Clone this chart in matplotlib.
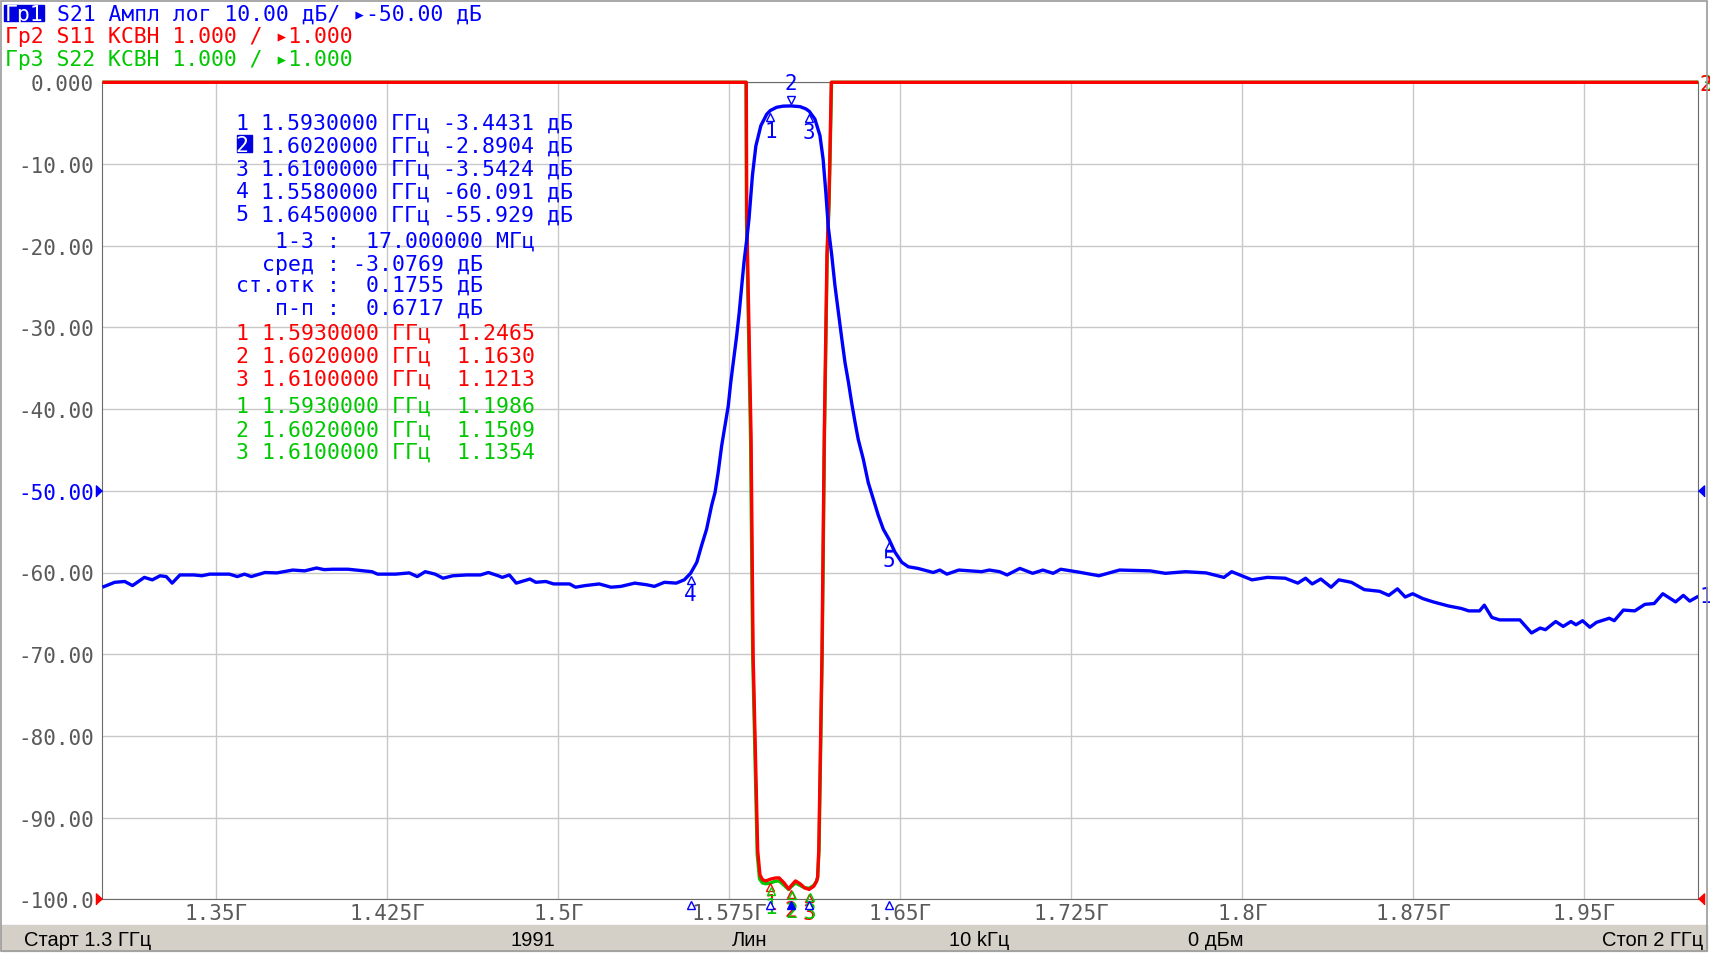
import numpy as np
import matplotlib
matplotlib.use("Agg")
import matplotlib.pyplot as plt
from matplotlib.patches import Rectangle
from matplotlib.transforms import offset_copy, blended_transform_factory

plt.rcParams['font.family'] = ['DejaVu Sans Mono', 'DejaVu Sans']

BLUE = '#0000ff'
RED = '#ff0000'
GREEN = '#00c800'
GRAY = '#5a5a5a'

# ---------------- sweep / scale settings ----------------
START_GHZ = 1.3
STOP_GHZ = 2.0
N_POINTS = 1991
SWEEP_TYPE = 'Лин'
IF_BW = '10 kГц'
POWER = '0 дБм'

S21_DB_PER_DIV = 10.0
S21_REF_DB = -50.0
VSWR_PER_DIV = 1.0
VSWR_REF = 1.0

X_TICKS = [1.35, 1.425, 1.5, 1.575, 1.65, 1.725, 1.8, 1.875, 1.95]
X_TICK_LABELS = ['1.35Г', '1.425Г', '1.5Г', '1.575Г', '1.65Г', '1.725Г',
                 '1.8Г', '1.875Г', '1.95Г']
Y_TICKS = [0, -10, -20, -30, -40, -50, -60, -70, -80, -90, -100]
Y_TICK_LABELS = ['0.000', '-10.00', '-20.00', '-30.00', '-40.00', '-50.00',
                 '-60.00', '-70.00', '-80.00', '-90.00', '-100.0']

# ---------------- S21 trace (GHz, dB) ----------------
S21_FREQ_GHZ = [
    1.3000, 1.3054, 1.3098, 1.3132, 1.3184, 1.3219, 1.3253, 1.3280, 1.3306, 1.3340,
    1.3401, 1.3436, 1.3471, 1.3557, 1.3592, 1.3623, 1.3653, 1.3713, 1.3765, 1.3835,
    1.3887, 1.3939, 1.3973, 1.4008, 1.4077, 1.4147, 1.4182, 1.4207, 1.4286, 1.4346,
    1.4381, 1.4416, 1.4459, 1.4494, 1.4537, 1.4598, 1.4658, 1.4693, 1.4736, 1.4754,
    1.4785, 1.4815, 1.4875, 1.4901, 1.4945, 1.4979, 1.5049, 1.5075, 1.5118, 1.5179,
    1.5231, 1.5274, 1.5335, 1.5387, 1.5421, 1.5465, 1.5517, 1.5552, 1.5580, 1.5607,
    1.5628, 1.5650, 1.5672, 1.5687, 1.5701, 1.5716, 1.5731, 1.5745, 1.5756, 1.5767,
    1.5782, 1.5793, 1.5804, 1.5814, 1.5828, 1.5836, 1.5851, 1.5866, 1.5888, 1.5914,
    1.5930, 1.5957, 1.5985, 1.6020, 1.6060, 1.6085, 1.6100, 1.6125, 1.6147, 1.6161,
    1.6173, 1.6184, 1.6199, 1.6213, 1.6228, 1.6243, 1.6257, 1.6272, 1.6286, 1.6301,
    1.6315, 1.6337, 1.6359, 1.6381, 1.6403, 1.6425, 1.6450, 1.6476, 1.6506, 1.6535,
    1.6577, 1.6644, 1.6673, 1.6704, 1.6756, 1.6856, 1.6890, 1.6935, 1.6968, 1.7024,
    1.7080, 1.7125, 1.7170, 1.7203, 1.7282, 1.7371, 1.7461, 1.7595, 1.7662, 1.7751,
    1.7841, 1.7919, 1.7953, 1.8042, 1.8109, 1.8188, 1.8243, 1.8277, 1.8306, 1.8344,
    1.8389, 1.8423, 1.8478, 1.8535, 1.8602, 1.8642, 1.8680, 1.8714, 1.8747, 1.8792,
    1.8837, 1.8904, 1.8960, 1.8993, 1.9040, 1.9061, 1.9094, 1.9128, 1.9217, 1.9268,
    1.9306, 1.9329, 1.9374, 1.9407, 1.9441, 1.9463, 1.9492, 1.9524, 1.9553, 1.9609,
    1.9631, 1.9671, 1.9721, 1.9765, 1.9806, 1.9844, 1.9900, 1.9934, 1.9962, 2.0000]
S21_DB = [
    -61.8, -61.2, -61.1, -61.6, -60.6, -60.9, -60.4, -60.5, -61.3, -60.3,
    -60.3, -60.4, -60.2, -60.2, -60.5, -60.2, -60.5, -60.0, -60.05, -59.7,
    -59.8, -59.45, -59.65, -59.6, -59.6, -59.8, -59.9, -60.2, -60.2, -60.05,
    -60.5, -59.9, -60.2, -60.7, -60.4, -60.3, -60.3, -60.0, -60.4, -60.6,
    -60.3, -61.3, -60.8, -61.2, -61.1, -61.4, -61.4, -61.8, -61.6, -61.4,
    -61.8, -61.7, -61.3, -61.5, -61.7, -61.2, -61.3, -60.9, -60.091, -58.75,
    -56.7, -54.7, -51.8, -50.2, -47.7, -44.5, -42.0, -39.6, -36.7, -34.3,
    -31.0, -28.2, -24.9, -22.0, -18.8, -16.7, -11.4, -7.8, -5.3, -3.9,
    -3.4431, -3.06, -2.92, -2.8904, -2.98, -3.25, -3.5424, -4.5, -6.5, -9.4,
    -13.5, -17.8, -21.2, -24.9, -28.2, -31.4, -34.3, -36.7, -39.2, -41.6,
    -43.7, -46.1, -49.0, -51.0, -53.0, -54.7, -55.929, -57.5, -58.75, -59.3,
    -59.5, -60.0, -59.7, -60.2, -59.7, -59.9, -59.7, -59.9, -60.3, -59.5,
    -60.1, -59.7, -60.1, -59.6, -59.95, -60.4, -59.7, -59.8, -60.1, -59.9,
    -60.05, -60.6, -59.9, -60.9, -60.6, -60.7, -61.3, -60.7, -61.4, -60.8,
    -61.8, -60.9, -61.2, -62.1, -62.3, -62.8, -62.0, -63.0, -62.6, -63.2,
    -63.6, -64.1, -64.4, -64.7, -64.7, -64.0, -65.5, -65.8, -65.8, -67.4,
    -66.8, -67.0, -66.0, -66.6, -66.0, -66.4, -65.9, -66.7, -66.1, -65.6,
    -65.9, -64.6, -64.7, -63.9, -63.8, -62.6, -63.6, -62.8, -63.5, -62.9]

# ---------------- S11 VSWR trace (top of scale = off-scale) ----------------
S11_FREQ_GHZ = [1.3000, 1.5824, 1.5826, 1.5845, 1.5854, 1.5874, 1.5884, 1.5895,
                1.5910, 1.5930, 1.5950, 1.5968, 1.5990, 1.6010, 1.6020, 1.6040,
                1.6060, 1.6080, 1.6100, 1.6120, 1.6132, 1.6137, 1.6142, 1.6156,
                1.6166, 1.6178, 1.6186, 1.6190, 1.6197, 2.0000]
S11_VSWR = [11.0, 11.0, 9.4, 6.67, 4.0, 1.6, 1.30, 1.24,
            1.225, 1.2465, 1.26, 1.262, 1.20, 1.125, 1.163, 1.225,
            1.19, 1.14, 1.1213, 1.16, 1.22, 1.27, 1.6, 4.0,
            6.67, 8.9, 9.5, 10.0, 11.0, 11.0]

# ---------------- S22 VSWR trace ----------------
S22_FREQ_GHZ = [1.3000, 1.5823, 1.5825, 1.5843, 1.5852, 1.5872, 1.5882, 1.5895,
                1.5910, 1.5930, 1.5950, 1.5968, 1.5990, 1.6010, 1.6020, 1.6040,
                1.6060, 1.6080, 1.6100, 1.6120, 1.6132, 1.6137, 1.6143, 1.6157,
                1.6167, 1.6179, 1.6187, 1.6191, 1.6198, 2.0000]
S22_VSWR = [11.0, 11.0, 9.3, 6.6, 4.0, 1.55, 1.25, 1.2,
            1.19, 1.1986, 1.22, 1.225, 1.17, 1.12, 1.1509, 1.20,
            1.17, 1.14, 1.1354, 1.17, 1.22, 1.27, 1.6, 4.0,
            6.67, 8.9, 9.5, 10.0, 11.0, 11.0]

# ---------------- markers ----------------
S21_MKR_GHZ = [1.593, 1.602, 1.610, 1.558, 1.645]
S21_MKR_DB = [-3.4431, -2.8904, -3.5424, -60.091, -55.929]
VSWR_MKR_GHZ = [1.593, 1.602, 1.610]
S11_MKR_VSWR = [1.2465, 1.1630, 1.1213]
S22_MKR_VSWR = [1.1986, 1.1509, 1.1354]
ACTIVE_MKR = 2
STAT_MEAN_DB = -3.0769
STAT_STD_DB = 0.1755
STAT_PP_DB = 0.6717

# ---------------- figure ----------------
W, H = 1710, 954
fig = plt.figure(figsize=(W / 100, H / 100), dpi=100)
fig.patch.set_facecolor('white')


def fx(x):
    return x / W


def fy(y):
    return 1 - y / H


def cw(pt):
    """advance width (px) of one DejaVu Sans Mono cell at pt size"""
    return 0.60205 * pt * 100 / 72


L, R, T, B = 102.4, 1698.4, 83.3, 900.3
rect = [fx(L), fy(B), (R - L) / W, (B - T) / H]
ax_v = fig.add_axes(rect)
ax = fig.add_axes(rect)
ax.patch.set_visible(False)

ax_v.set_xlim(START_GHZ, STOP_GHZ)
ax.set_xlim(START_GHZ, STOP_GHZ)
ax.set_ylim(S21_REF_DB - 5 * S21_DB_PER_DIV, S21_REF_DB + 5 * S21_DB_PER_DIV)
ax_v.set_ylim(VSWR_REF, VSWR_REF + 10 * VSWR_PER_DIV)

ax_v.set_xticks(X_TICKS)
ax_v.set_yticks(np.arange(VSWR_REF, VSWR_REF + 10 * VSWR_PER_DIV + 0.01, VSWR_PER_DIV))
ax_v.grid(True, color='#c8c8c8', lw=1.0)
ax_v.tick_params(length=0, labelbottom=False, labelleft=False)
for s in ax_v.spines.values():
    s.set_color('#6a6a6a')
    s.set_linewidth(0.8)

ax.set_xticks(X_TICKS)
ax.set_xticklabels(X_TICK_LABELS)
ax.set_yticks(Y_TICKS)
ax.set_yticklabels(Y_TICK_LABELS)
ax.tick_params(length=0, colors=GRAY, labelsize=15)
ax.tick_params(axis='x', pad=3)
ax.tick_params(axis='y', pad=6)
for lab, t in zip(ax.get_yticklabels(), Y_TICKS):
    if t == S21_REF_DB:
        lab.set_color(BLUE)
for s in ax.spines.values():
    s.set_visible(False)

# traces
ax_v.plot(S22_FREQ_GHZ, S22_VSWR, color=GREEN, lw=2.4, clip_on=False,
          solid_capstyle='butt', zorder=3)
ax_v.plot(S11_FREQ_GHZ, S11_VSWR, color=RED, lw=2.4, clip_on=False,
          solid_capstyle='butt', zorder=3.1)
ax.plot(S21_FREQ_GHZ, S21_DB, color=BLUE, lw=2.4, solid_capstyle='butt', zorder=3)

# markers on S21
for i, (f, v) in enumerate(zip(S21_MKR_GHZ, S21_MKR_DB)):
    n = i + 1
    if n == ACTIVE_MKR:
        tr = offset_copy(ax.transData, fig=fig, x=0, y=4.6, units='points')
        ax.plot([f], [v], marker='v', ms=6, mfc='none', mec=BLUE, mew=1,
                transform=tr, zorder=4)
        ax.annotate(str(n), (f, v), xytext=(0, 16.5), textcoords='offset points',
                    ha='center', va='center', color=BLUE, fontsize=15, zorder=4)
    else:
        tr = offset_copy(ax.transData, fig=fig, x=0, y=-5, units='points')
        ax.plot([f], [v], marker='^', ms=6, mfc='none', mec=BLUE, mew=1,
                transform=tr, zorder=4)
        ax.annotate(str(n), (f, v), xytext=(0, -15), textcoords='offset points',
                    ha='center', va='center', color=BLUE, fontsize=15, zorder=4)

# markers on VSWR traces
for vals, col, dx in ((S11_MKR_VSWR, RED, 0), (S22_MKR_VSWR, GREEN, 0.6)):
    for i, (f, v) in enumerate(zip(VSWR_MKR_GHZ, vals)):
        tr = offset_copy(ax_v.transData, fig=fig, x=dx, y=-6, units='points')
        ax_v.plot([f], [v], marker='^', ms=6, mfc='none', mec=col, mew=1,
                  transform=tr, zorder=4, clip_on=False)
        ax_v.annotate(str(i + 1), (f, v), xytext=(dx, -17), textcoords='offset points',
                      ha='center', va='center', color=col, fontsize=15, zorder=4,
                      annotation_clip=False)

# marker flags below the frequency axis
btr = offset_copy(blended_transform_factory(ax.transData, ax.transAxes), fig=fig,
                  x=0, y=-3.8, units='points')
for i, f in enumerate(S21_MKR_GHZ):
    filled = (i + 1) == ACTIVE_MKR
    ax.plot([f], [0], marker='^', ms=6, mfc=BLUE if filled else 'white', mec=BLUE,
            mew=1, transform=btr, clip_on=False, zorder=5)

# reference level arrows
tri_r = [(-0.55, -1), (-0.55, 1), (0.55, 0)]
tri_l = [(0.55, -1), (0.55, 1), (-0.55, 0)]
ltr = blended_transform_factory(ax.transAxes, ax.transData)
ax.plot([0], [S21_REF_DB], marker=tri_r, ms=8, color=BLUE, clip_on=False,
        transform=offset_copy(ltr, fig=fig, x=-2.2, y=0, units='points'))
ax.plot([1], [S21_REF_DB], marker=tri_l, ms=8, color=BLUE, clip_on=False,
        transform=offset_copy(ltr, fig=fig, x=2.2, y=0, units='points'))
vtr = blended_transform_factory(ax_v.transAxes, ax_v.transData)
ax_v.plot([0], [VSWR_REF], marker=tri_r, ms=8, color=RED, clip_on=False, zorder=5,
          transform=offset_copy(vtr, fig=fig, x=-2.2, y=0, units='points'))
ax_v.plot([1], [VSWR_REF], marker=tri_l, ms=8, color=RED, clip_on=False, zorder=5,
          transform=offset_copy(vtr, fig=fig, x=2.2, y=0, units='points'))

# trace end labels at the right edge
ax.annotate('1', (STOP_GHZ, S21_DB[-1]), xytext=(0.5, 0), textcoords='offset points',
            ha='left', va='center', color=BLUE, fontsize=15, annotation_clip=False)
ax_v.annotate('3', (STOP_GHZ, S22_VSWR[-1]), xytext=(1.3, -1), textcoords='offset points',
              ha='left', va='center', color=GREEN, fontsize=15, annotation_clip=False)
ax_v.annotate('2', (STOP_GHZ, S11_VSWR[-1]), xytext=(0.5, -1), textcoords='offset points',
              ha='left', va='center', color=RED, fontsize=15, annotation_clip=False)

# ---------------- header ----------------
HF = 15.4
HX = 5
hdr1 = f"S21 Ампл лог {S21_DB_PER_DIV:.2f} дБ/ ▸{S21_REF_DB:.2f} дБ"
hdr2 = f"Гр2 S11 КСВН {VSWR_PER_DIV:.3f} / ▸{VSWR_REF:.3f}"
hdr3 = f"Гр3 S22 КСВН {VSWR_PER_DIV:.3f} / ▸{VSWR_REF:.3f}"
fig.patches.append(Rectangle((fx(3.5), fy(21.5)), 40 / W, 16 / H,
                             transform=fig.transFigure, color='#0000e0', zorder=0))
fig.text(fx(HX), fy(20.7), 'Гр1', color='white', fontsize=HF, va='baseline')
fig.text(fx(HX + 4 * cw(HF)), fy(20.7), hdr1, color=BLUE, fontsize=HF, va='baseline')
fig.text(fx(HX), fy(43.3), hdr2, color=RED, fontsize=HF, va='baseline')
fig.text(fx(HX), fy(66.0), hdr3, color=GREEN, fontsize=HF, va='baseline')

# ---------------- marker table ----------------
TF = 15.5
TX = 235.5
BL = 7.8


def fmt_db(v):
    return f"{v:.3f}" if abs(v) >= 10 else f"{v:.4f}"


blue_y = [121.7, 144.3, 167.7, 190.7, 213.3]
for i, (f, v, yc) in enumerate(zip(S21_MKR_GHZ, S21_MKR_DB, blue_y)):
    n = i + 1
    col = 'white' if n == ACTIVE_MKR else BLUE
    if n == ACTIVE_MKR:
        fig.patches.append(Rectangle((fx(236.5), fy(yc + 8.6)), 15 / W, 17 / H,
                                     transform=fig.transFigure, color='#0000e0', zorder=0))
    fig.text(fx(TX), fy(yc + BL), str(n), color=col, fontsize=TF, va='baseline')
    fig.text(fx(TX + 2 * cw(TF)), fy(yc + BL), f"{f:.7f} ГГц {fmt_db(v)} дБ",
             color=BLUE, fontsize=TF, va='baseline')

span_mhz = (S21_MKR_GHZ[2] - S21_MKR_GHZ[0]) * 1000
stats = [f"   1-3 :  {span_mhz:.6f} МГц",
         f"  сред : {STAT_MEAN_DB:.4f} дБ",
         f"ст.отк :  {STAT_STD_DB:.4f} дБ",
         f"   п-п :  {STAT_PP_DB:.4f} дБ"]
for s, yc in zip(stats, [240.0, 263.3, 284.3, 306.7]):
    fig.text(fx(TX), fy(yc + BL), s, color=BLUE, fontsize=TF, va='baseline')

for vals, col, ys in ((S11_MKR_VSWR, RED, [331.7, 355.0, 377.7]),
                      (S22_MKR_VSWR, GREEN, [405.0, 428.3, 450.7])):
    for i, (f, v, yc) in enumerate(zip(VSWR_MKR_GHZ, vals, ys)):
        fig.text(fx(TX), fy(yc + BL), f"{i + 1} {f:.7f} ГГц  {v:.4f}",
                 color=col, fontsize=TF, va='baseline')

# ---------------- status bar & window frame ----------------
fig.patches.append(Rectangle((fx(1), fy(952)), 1706 / W, 26 / H,
                             transform=fig.transFigure, color='#d4d0c8', zorder=0))
fig.patches.append(Rectangle((fx(1), fy(952)), 1706 / W, 950 / H,
                             transform=fig.transFigure, fill=False, ec='#9a9a9a',
                             lw=1.2, zorder=1))
SF = dict(fontsize=14.5, family=['Liberation Sans', 'DejaVu Sans'], color='black',
          va='baseline')
fig.text(fx(24), fy(946), f"Старт {START_GHZ:g} ГГц", ha='left', **SF)
fig.text(fx(533), fy(946), str(N_POINTS), ha='center', **SF)
fig.text(fx(750), fy(946), SWEEP_TYPE, ha='center', **SF)
fig.text(fx(979), fy(946), IF_BW, ha='center', **SF)
fig.text(fx(1216), fy(946), POWER, ha='center', **SF)
fig.text(fx(1703), fy(946), f"Стоп {STOP_GHZ:g} ГГц", ha='right', **SF)

fig.savefig('out.png', dpi=100)
